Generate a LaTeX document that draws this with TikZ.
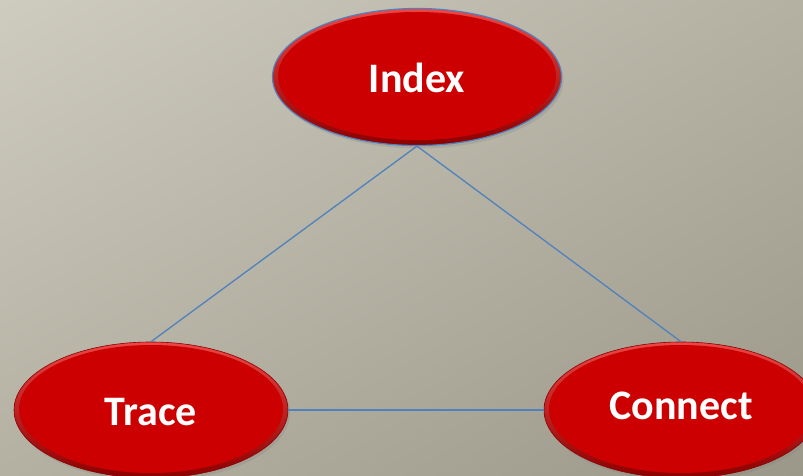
\documentclass[tikz,border=0pt]{standalone}
\usepackage{fontspec}
\setmainfont{Carlito}
\usetikzlibrary{shapes.geometric, shadows, shadings}

\definecolor{bgLight}{RGB}{206,204,191}
\definecolor{bgMid}{RGB}{180,177,163}
\definecolor{bgDark}{RGB}{155,152,138}
\definecolor{bubbleRed}{RGB}{204,0,0}
\definecolor{bubbleLight}{RGB}{236,70,70}
\definecolor{bubbleDark}{RGB}{140,0,0}
\definecolor{linkBlue}{RGB}{79,129,189}

\begin{document}
\begin{tikzpicture}[x=1pt, y=-1pt,
  topic/.style={ellipse, top color=bubbleLight, bottom color=bubbleDark,
    draw=bubbleDark, line width=0.6pt,
    minimum width=274pt, minimum height=136pt, inner sep=0pt,
    path picture={\fill[bubbleRed] ([yshift=1pt]path picture bounding box.center)
      ellipse [x radius=132pt, y radius=64pt];},
    drop shadow={opacity=0.25, shadow xshift=2pt, shadow yshift=-3pt}},
  word/.style={text=white, font=\fontsize{42}{46}\selectfont\bfseries},
  link/.style={linkBlue, line width=1.3pt}
]
  % Background
  \useasboundingbox (0,0) rectangle (803,476);
  \shade[upper left=bgLight, upper right=bgMid, lower left=bgMid,
    lower right=bgDark] (0,0) rectangle (803,476);

  % Topics
  \node[topic, draw=linkBlue, line width=1.2pt, minimum width=289pt,
    minimum height=137pt,
    path picture={\fill[bubbleRed] ([yshift=1pt]path picture bounding box.center)
      ellipse [x radius=139pt, y radius=64pt];}] (I) at (417,77) {};
  \node[topic] (T) at (151,410) {};
  \node[topic] (C) at (681,410) {};

  % Words
  \node[word] (Iw) at (417,78) {Index};
  \node[word] (Tw) at (151,412) {Trace};
  \node[word] (Cw) at (681,406) {Connect};

  % Links
  \draw[link] (I.south) -- (T.north);
  \draw[link] (I.south) -- (C.north);
  \draw[link] (T.east) -- (C.west);
\end{tikzpicture}
\end{document}
